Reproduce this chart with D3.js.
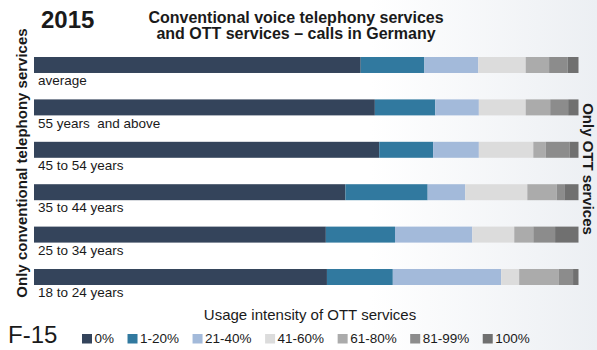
<!DOCTYPE html>
<html lang="en">
	<head>
		<meta charset="utf-8">
		<title>Conventional voice telephony and OTT calls in Germany</title>
		<script src="https://d3js.org/d3.v7.min.js"></script>
		<style type="text/css">
body {
    margin: 0;
    background: #fff;
}
text {
    font-family: "Liberation Sans", Arial, Helvetica, sans-serif;
    fill: #1a1a1a;
}
		</style>
	</head>
	<body>
		<script type="text/javascript">

			// Width and height
			var w = 597;
			var h = 350;

			// age groups, top to bottom
			var groups = ["average", "55 years  and above", "45 to 54 years", "35 to 44 years", "25 to 34 years", "18 to 24 years"];

			// usage intensity classes (legend)
			var classes = ["0%", "1-20%", "21-40%", "41-60%", "61-80%", "81-99%", "100%"];

			// share of respondents (%) per class, one value per age group
			var share0    = [60.0, 62.6, 63.4, 57.2, 53.6, 53.8];
			var share1_20 = [11.7, 11.1,  9.9, 15.1, 12.7, 12.1];
			var share21_40 = [9.9,  8.0,  8.4,  6.9, 14.2, 19.9];
			var share41_60 = [8.7,  8.6, 10.0, 11.4,  7.7,  3.3];
			var share61_80 = [4.3,  4.5,  2.3,  5.4,  3.5,  7.3];
			var share81_99 = [3.4,  3.3,  4.4,  1.4,  4.0,  2.6];
			var share100   = [2.0,  1.9,  1.6,  2.6,  4.3,  1.0];

			var colors = ["#34445b", "#31799f", "#a3bada", "#dcdcdc", "#ababab", "#8c8c8c", "#707070"];

			// build rows for d3.stack
			var allShares = [share0, share1_20, share21_40, share41_60, share61_80, share81_99, share100];
			var rows = groups.map(function(g, i) {
				var r = {group: g};
				classes.forEach(function(c, j) { r[c] = allShares[j][i]; });
				return r;
			});

			var stacked = d3.stack().keys(classes)(rows);

			// scales
			var x = d3.scaleLinear()
				.domain([0, 100])
				.range([34, 578.5]);

			var y = d3.scaleBand()
				.domain(groups)
				.range([57, 285])
				.paddingInner(0.623)
				.paddingOuter(0);

			// Create SVG element
			var svg = d3.select("body")
						.append("svg")
						.attr("width", w)
						.attr("height", h);

			// faint background shading on the right
			var grad = svg.append("defs").append("linearGradient")
				.attr("id", "bg")
				.attr("x1", "0").attr("x2", "1")
				.attr("y1", "0").attr("y2", "0");
			grad.append("stop").attr("offset", "0.62").attr("stop-color", "#ffffff");
			grad.append("stop").attr("offset", "1").attr("stop-color", "#eceff3");

			svg.append("rect")
				.attr("width", w)
				.attr("height", h)
				.attr("fill", "url(#bg)");

			// bars
			svg.selectAll(".series")
				.data(stacked)
				.enter()
				.append("g")
				.attr("class", "series")
				.attr("fill", function(d, i) { return colors[i]; })
				.selectAll("rect")
				.data(function(d) { return d; })
				.enter()
				.append("rect")
				.attr("x", function(d) { return x(d[0]); })
				.attr("y", function(d) { return y(d.data.group); })
				.attr("width", function(d) { return x(d[1]) - x(d[0]); })
				.attr("height", y.bandwidth());

			// group labels under each bar
			svg.selectAll(".grp")
				.data(groups)
				.enter()
				.append("text")
				.attr("class", "grp")
				.attr("x", 38)
				.attr("y", function(d) { return y(d) + y.bandwidth() + 12.3; })
				.attr("font-size", "13.5px")
				.style("white-space", "pre")
				.text(function(d) { return d; });

			// year
			svg.append("text")
				.attr("x", 41)
				.attr("y", 28)
				.attr("font-size", "24px")
				.attr("font-weight", "bold")
				.text("2015");

			// title
			svg.append("text")
				.attr("x", 296)
				.attr("y", 23)
				.attr("font-size", "16px")
				.attr("font-weight", "bold")
				.attr("text-anchor", "middle")
				.text("Conventional voice telephony services");

			svg.append("text")
				.attr("x", 296)
				.attr("y", 38.5)
				.attr("font-size", "16px")
				.attr("font-weight", "bold")
				.attr("text-anchor", "middle")
				.text("and OTT services \u2013 calls in Germany");

			// side labels
			svg.append("text")
				.attr("transform", "translate(27,163) rotate(-90)")
				.attr("font-size", "15px")
				.attr("font-weight", "bold")
				.attr("text-anchor", "middle")
				.text("Only conventional telephony services");

			svg.append("text")
				.attr("transform", "translate(583,169) rotate(90)")
				.attr("font-size", "15px")
				.attr("font-weight", "bold")
				.attr("text-anchor", "middle")
				.text("Only OTT services");

			// axis caption
			svg.append("text")
				.attr("x", 310)
				.attr("y", 320)
				.attr("font-size", "15px")
				.attr("text-anchor", "middle")
				.text("Usage intensity of OTT services");

			// figure number
			svg.append("text")
				.attr("x", 8)
				.attr("y", 343)
				.attr("font-size", "24px")
				.text("F-15");

			// legend
			var legend = svg.append("g").attr("class", "legend");
			var lx = 82;
			classes.forEach(function(c, i) {
				legend.append("rect")
					.attr("x", lx)
					.attr("y", 334)
					.attr("width", 10)
					.attr("height", 9.5)
					.attr("fill", colors[i]);
				var t = legend.append("text")
					.attr("x", lx + 12.5)
					.attr("y", 343)
					.attr("font-size", "13.5px")
					.attr("fill", "#222")
					.text(c);
				lx = lx + 12.5 + t.node().getComputedTextLength() + 13.5;
			});

		</script>
	</body>
</html>
